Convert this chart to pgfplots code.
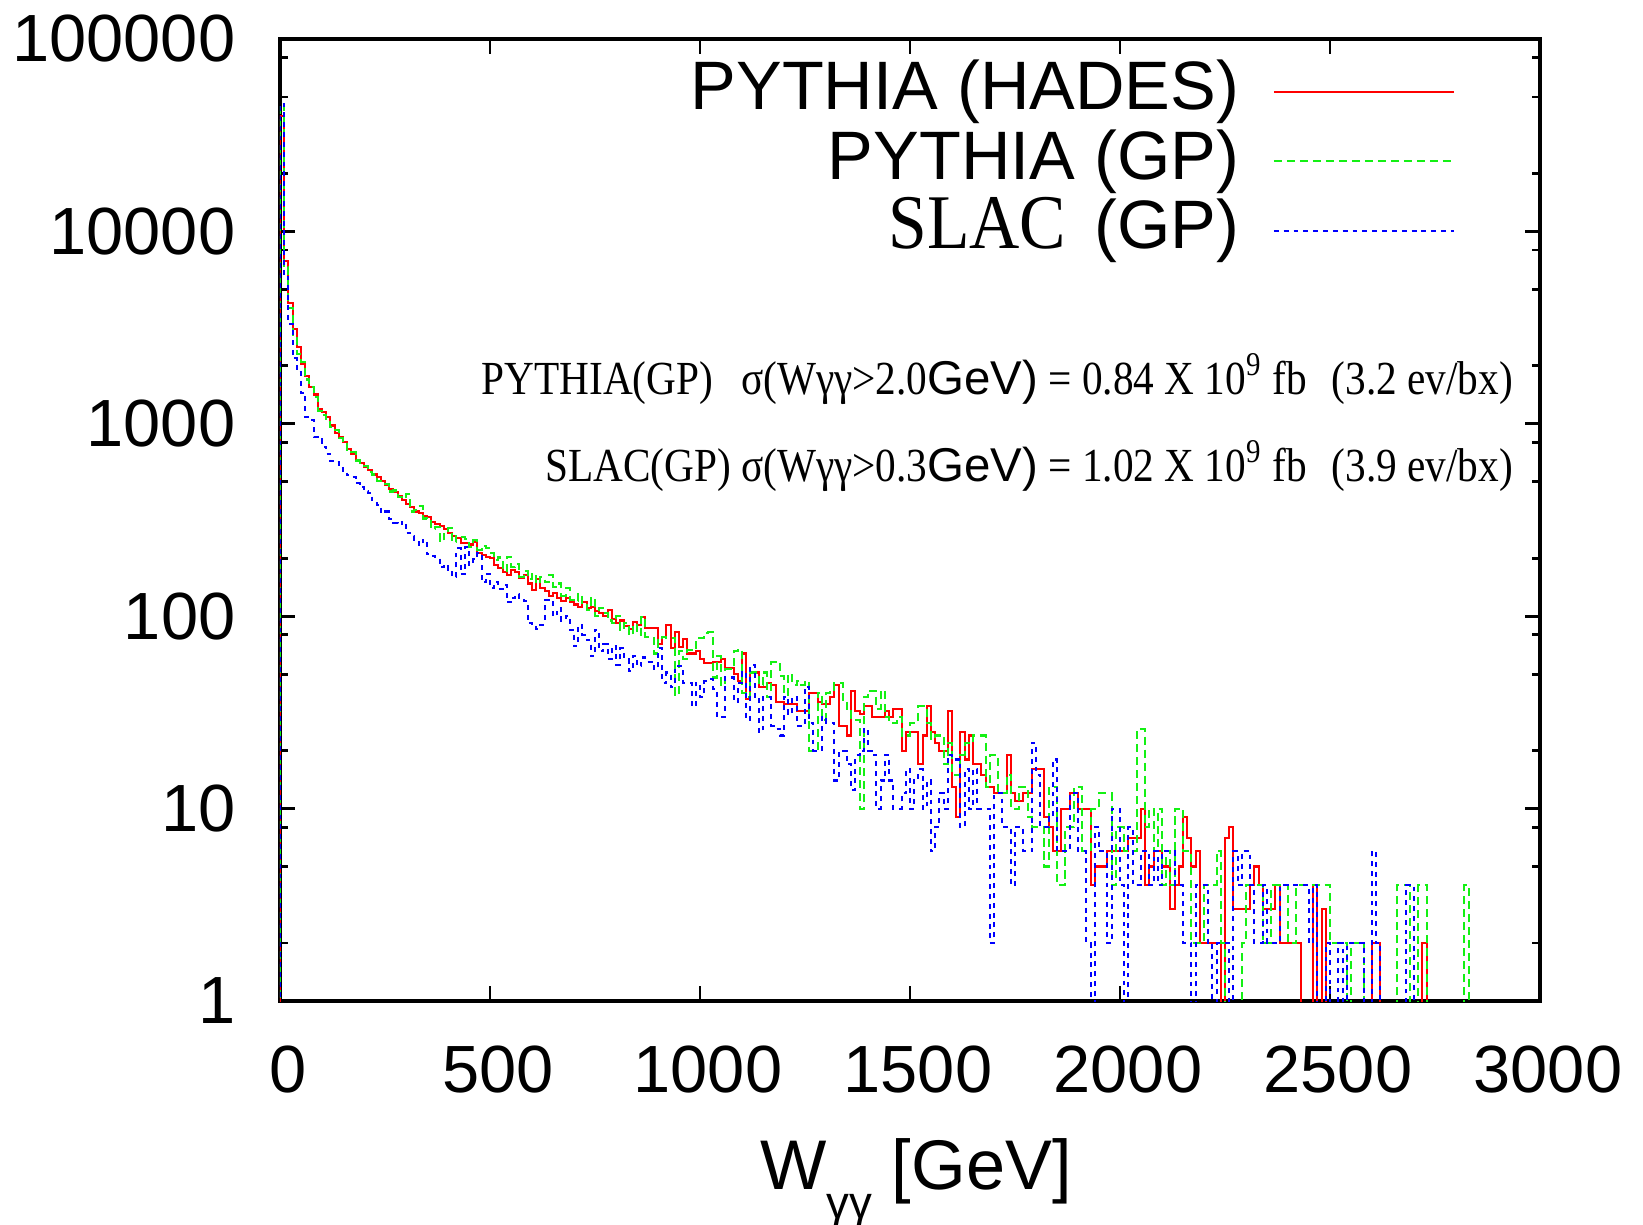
\documentclass[border=0pt]{standalone}
\usepackage{fontspec}
\setmainfont{Liberation Sans}
\newfontfamily\tnr[FakeStretch=0.9]{Liberation Serif}
\newfontfamily\tnrn[FakeStretch=0.87]{Liberation Serif}
\usepackage{pgfplots}
\pgfplotsset{compat=1.18}
\usepackage{pgfplotstable}
\definecolor{gpred}{RGB}{255,0,0}
\definecolor{gpgreen}{RGB}{20,240,20}
\definecolor{gpblue}{RGB}{0,0,255}

% 10 GeV bins, left edges; empty bins written as 0.1 (below the axis)
\pgfplotstableread{
x r g b
0 0.1 0.1 0.1
0 40000 46000 46000
10 7000 6500 5800
20 4250 4000 3300
30 3100 2900 2200
40 2500 2300 1850
50 2050 2100 1450
60 1780 1700 1080
70 1550 1560 1050
80 1420 1380 850
90 1200 1170 830
100 1150 1110 760
110 1080 1020 700
120 980 960 640
130 900 930 630
140 850 840 600
150 800 810 570
160 740 730 540
170 700 710 530
180 650 645 490
190 625 625 470
200 600 605 445
210 575 560 437
220 545 545 400
230 527 505 380
240 505 495 345
250 480 485 350
260 460 445 320
270 442 450 305
280 420 415 300
290 400 408 310
300 385 430 270
310 370 350 262
320 350 358 250
330 345 372 235
340 330 322 250
350 327 312 210
360 310 285 205
370 300 292 200
380 295 245 180
390 285 268 185
400 270 288 175
410 262 242 160
420 255 262 225
430 240 258 165
440 240 252 228
450 236 230 185
460 244 248 198
470 213 222 212
480 209 232 150
490 203 226 165
500 201 214 140
510 185 196 150
520 178 202 138
530 170 172 145
540 163 204 118
550 173 180 125
560 170 186 130
570 158 160 125
580 163 172 120
590 148 156 92
600 137 166 88
610 156 148 86
620 140 160 90
630 135 150 121
640 128 164 118
650 132 142 100
660 125 148 110
670 120 128 95
680 125 140 100
690 118 122 85
700 115 120 70
710 112 130 90
720 118 114 80
730 110 108 75
740 112 124 62
750 106 100 85
760 104 110 66
770 100 104 72
780 108 95 60
790 97 92 70
800 92 100 56
810 95 85 68
820 89 92 60
830 86 80 52
840 93 90 62
850 90 80 55
860 99 99 61
870 87 78 58
880 87 78 58
890 87 64 53
900 72 75 68
910 78 78 45
920 90 77 51
930 68 77 43
940 83 39 55
950 69 66 55
960 76 60 45
970 64 67 45
980 64 67 34
990 66 77 45
1000 60 77 38
1010 57 82 46
1020 57 83 47
1030 58 48 42
1040 58 62 30
1050 60 44 30
1060 54 53 48
1070 54 53 48
1080 50 66 36
1090 46 67 45
1100 64 40 51
1110 37 38 29
1120 51 51 56
1130 51 51 38
1140 43 44 25
1150 43 51 38
1160 45 38 38
1170 44 58 27
1180 36 58 26
1190 36 49 24
1200 35 39 38
1210 35 50 31
1220 35 44 38
1230 32 46 27
1240 32 44 28
1250 32 46 43
1260 40 20 28
1270 40 20 20
1280 36 40 20
1290 35 29 30
1300 35 40 28
1310 38 41 28
1320 44 45 14
1330 27 45 20
1340 27 36 20
1350 24 32 17
1360 41 29 12.5
1370 32 29 19
1380 31 10 20
1390 34 38 26
1400 34 41 20
1410 30 41 19
1420 30 33 10
1430 30 41 14
1440 32 30 19
1450 30 28 14
1460 33 28 10
1470 33 30 10
1480 20 24 12
1490 25 24 16
1500 25 28 10
1510 25 28 14
1520 17 34 16
1530 24 34 10
1540 34 28 14
1550 25 23 6
1560 22 24 8
1570 20 24 12
1580 20 17 10
1590 32 22 19
1600 13 15 18
1610 9 15 18
1620 25 19 8
1630 18 22 16
1640 24 22 10
1650 17 24 16
1660 17 24 10
1670 15 24 10
1680 13 13 10
1690 13 19 2
1700 12 19 12
1710 12 12 12
1720 12 12 8
1730 19 15 8
1740 12 10 4
1750 11 10 8
1760 11 13 8
1770 12 13 6
1780 12 9 6
1790 16 8 22
1800 16 8 15
1810 16 8 8
1820 9 5 8
1830 8 13 9
1840 6 13 18
1850 6 4 6
1860 10 4 6
1870 10 8 6
1880 12 8 12
1890 12 13 12
1900 10 13 6
1910 10 6 6
1920 10 6 2
1930 4 10 0.1
1940 5 10 8
1950 5 12 6
1960 5 12 6
1970 6 12 2
1980 6 4 10
1990 6 8 10
2000 6 8 4
2010 6 6 0.1
2020 7 6 8
2030 7 6 4
2040 7 26 4
2050 10 26 6
2060 4 8 6
2070 5 10 4
2080 6 6 6
2090 6 10 4
2100 5 4 6
2110 5 6 6
2120 3 4 6
2130 4 10 4
2140 5 10 4
2150 9 6 2
2160 7 6 2
2170 5 2 0.1
2180 6 2 4
2190 2 2 4
2200 2 4 4
2210 2 4 2
2220 2 4 0.1
2230 2 6 2
2240 0.1 2 2
2250 7 0.1 2
2260 8 0.1 0.1
2270 3 0.1 6
2280 3 0.1 4
2290 3 2 6
2300 3 4 6
2310 4 4 4
2320 5 4 2
2330 4 4 2
2340 3 2 4
2350 3 2 2
2360 3 4 2
2370 4 4 2
2380 2 4 4
2390 2 4 4
2400 2 2 4
2410 2 2 4
2420 2 4 4
2430 0.1 4 4
2440 0.1 4 4
2450 0.1 4 2
2460 4 4 4
2470 0.1 4 0.1
2480 3 4 0.1
2490 0.1 4 2
2500 0.1 2 0.1
2510 0.1 2 0.1
2520 0.1 2 2
2530 0.1 2 0.1
2540 0.1 0.1 2
2550 0.1 2 2
2560 0.1 2 2
2570 0.1 2 2
2580 0.1 0.1 0.1
2590 0.1 0.1 0.1
2600 2 0.1 6
2610 2 0.1 2
2620 0.1 0.1 0.1
2630 0.1 0.1 0.1
2640 0.1 0.1 0.1
2650 0.1 0.1 0.1
2660 0.1 4 0.1
2670 0.1 4 0.1
2680 0.1 4 4
2690 0.1 0.1 4
2700 0.1 0.1 0.1
2710 0.1 4 0.1
2720 2 4 0.1
2730 0.1 0.1 0.1
2740 0.1 0.1 0.1
2750 0.1 0.1 0.1
2760 0.1 0.1 0.1
2770 0.1 0.1 0.1
2780 0.1 0.1 0.1
2790 0.1 0.1 0.1
2800 0.1 0.1 0.1
2810 0.1 0.1 0.1
2820 0.1 4 0.1
2830 0.1 0.1 0.1
2840 0.1 0.1 0.1
}\hist

\begin{document}
\begin{tikzpicture}
\begin{axis}[
    name=ax,
    scale only axis,
    width=12.6cm, height=9.62cm,
    xmin=0, xmax=3000,
    ymode=log, ymin=1, ymax=100000,
    xtick={0,500,1000,1500,2000,2500,3000},
    xticklabels={0,500,1000,1500,2000,2500,3000},
    ytick={1,10,100,1000,10000,100000},
    yticklabels={1,10,100,1000,10000,100000},
    minor ytick={2,5,8,20,50,80,200,500,800,2000,5000,8000,20000,50000,80000},
    tick align=inside,
    major tick length=0.15cm, minor tick length=0.08cm,
    axis line style={line width=0.9pt},
    every tick/.style={black, line width=0.8pt},
    ticklabel style={font=\fontsize{19}{19}\selectfont},
    xticklabel style={anchor=north, inner sep=0pt, yshift=-0.44cm, xshift=0.08cm},
    yticklabel style={anchor=east, inner sep=0pt, xshift=-0.44cm},
    xlabel={W\raisebox{-0.42em}{\fontsize{13}{13}\selectfont γγ} [GeV]},
    xlabel style={font=\fontsize{20}{20}\selectfont, at={(axis description cs:0.5,0)}, anchor=base, yshift=-1.88cm, xshift=0.06cm},
    legend plot pos=right,
    legend cell align=right,
    legend image code/.code={\draw[#1] (0cm,0cm) -- (1.8cm,0cm);},
    legend style={at={(0.933,0.982)}, anchor=north east, draw=none, fill=none,
        inner sep=0pt, row sep=0pt, column sep=9.6pt,
        font=\fontsize{19.5}{19.5}\selectfont,
        nodes={inner sep=0pt, text height=15pt, text depth=4.8pt}},
]
\addplot[const plot, gpred, line width=0.6pt] table[x=x, y=r] {\hist};
\addlegendentry{PYTHIA (HADES)}
\addplot[const plot, gpgreen, line width=0.6pt, dash pattern=on 2.3pt off 1.4pt] table[x=x, y=g] {\hist};
\addlegendentry{PYTHIA (GP)}
\addplot[const plot, gpblue, line width=0.6pt, dash pattern=on 1.4pt off 1.4pt] table[x=x, y=b] {\hist};
\addlegendentry{{\tnr\fontsize{22}{22}\selectfont SLAC}\hspace{8pt}(GP)}

\node[anchor=east, inner sep=0pt, font=\tnrn\fontsize{13.5}{13.5}\selectfont]
    at (rel axis cs:0.979,0.6466)
    {PYTHIA(GP)\hspace{8pt}σ(Wγγ>2.0{\normalfont GeV)} = 0.84 X 10\textsuperscript{9} fb\hspace{7pt}(3.2 ev/bx)};
\node[anchor=east, inner sep=0pt, font=\tnrn\fontsize{13.5}{13.5}\selectfont]
    at (rel axis cs:0.979,0.556)
    {SLAC(GP) σ(Wγγ>0.3{\normalfont GeV)} = 1.02 X 10\textsuperscript{9} fb\hspace{7pt}(3.9 ev/bx)};
\node[anchor=base, inner sep=0pt, text=gpred, font=\fontsize{12.5}{12.5}\selectfont]
    at (rel axis cs:0.138,1.0457) {γγ};
\end{axis}
\pgfresetboundingbox
\path[use as bounding box] ([shift={(-2.80cm,-2.23cm)}]ax.south west) rectangle ([shift={(1.03cm,0.39cm)}]ax.north east);
\end{tikzpicture}
\end{document}
